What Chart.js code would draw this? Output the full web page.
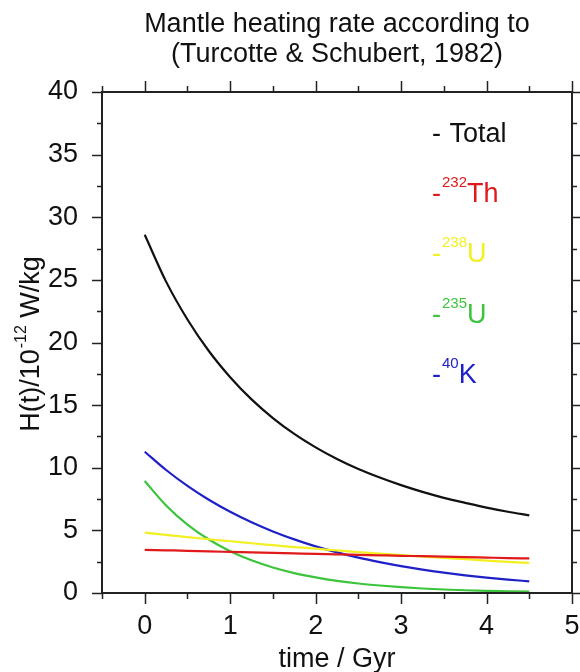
<!DOCTYPE html>
<html>
<head>
<meta charset="utf-8">
<script src="https://cdn.jsdelivr.net/npm/chart.js@4.4.1/dist/chart.umd.min.js"></script>
<style>
  html, body { margin: 0; padding: 0; background: #fff; overflow: hidden; }
  #wrap { width: 580px; height: 672px; }
</style>
</head>
<body>
<div id="wrap"><canvas id="canvas"></canvas></div>
<script>
// DATA (H in 10^-12 W/kg)
var time = [0, 0.25, 0.5, 0.75, 1, 1.25, 1.5, 1.75, 2, 2.25, 2.5, 2.75, 3, 3.25, 3.5, 3.75, 4, 4.25, 4.5]
var total = [28.6, 24.86, 21.84, 19.32, 17.23, 15.46, 13.97, 12.70, 11.63, 10.70, 9.90, 9.22, 8.61, 8.07, 7.60, 7.20, 6.82, 6.49, 6.20]
var th232 = [3.45, 3.41, 3.37, 3.32, 3.28, 3.24, 3.20, 3.16, 3.12, 3.09, 3.05, 3.01, 2.97, 2.94, 2.90, 2.87, 2.83, 2.79, 2.76]
var u238 = [4.82, 4.64, 4.46, 4.29, 4.13, 3.97, 3.82, 3.67, 3.54, 3.40, 3.27, 3.15, 3.03, 2.91, 2.80, 2.70, 2.59, 2.49, 2.40]
var u235 = [8.94, 6.99, 5.46, 4.27, 3.34, 2.61, 2.04, 1.59, 1.25, 0.97, 0.76, 0.60, 0.47, 0.36, 0.28, 0.22, 0.17, 0.14, 0.11]
var k40 = [11.28, 9.82, 8.55, 7.44, 6.48, 5.64, 4.91, 4.28, 3.72, 3.24, 2.82, 2.46, 2.14, 1.86, 1.62, 1.41, 1.23, 1.07, 0.93]

var xTicks = [0, 1, 2, 3, 4, 5]
var yTicks = [0, 5, 10, 15, 20, 25, 30, 35, 40]

var titleLines = ['Mantle heating rate according to', '(Turcotte & Schubert, 1982)']
var xTitle = 'time / Gyr'

// legend: dash, superscript, name, colour
var legendItems = [
  { sup: '', name: ' Total', color: '#111111' },
  { sup: '232', name: 'Th', color: '#e01a1a' },
  { sup: '238', name: 'U', color: '#f2f022' },
  { sup: '235', name: 'U', color: '#3cc43c' },
  { sup: '40', name: 'K', color: '#2020c8' }
]

var FONT = '"Liberation Sans", Arial, Helvetica, sans-serif'

const pts = (ys) => ys.map((y, i) => ({ x: time[i], y: y }))

const mkSet = (label, ys, color) => ({
  label: label,
  data: pts(ys),
  borderColor: color,
  backgroundColor: color,
  borderWidth: 2.2,
  pointRadius: 0,
  fill: false,
  cubicInterpolationMode: 'monotone'
})

//TEXT + TICKS + FRAME PLUGIN
var decor = {
  id: 'decor',
  afterDraw: function (chart) {
    var ctx = chart.ctx
    var a = chart.chartArea
    var xs = chart.scales.x
    var ys = chart.scales.y
    ctx.save()
    ctx.strokeStyle = '#222'
    ctx.lineWidth = 2
    ctx.strokeRect(a.left, a.top, a.right - a.left, a.bottom - a.top)

    // x ticks (major on integers, minor on halves), top and bottom, outward
    ctx.lineWidth = 1.5
    for (var v = -0.5; v <= 5.001; v += 0.5) {
      var px = Math.round(xs.getPixelForValue(v)) + 0.5
      var len = Math.abs(v - Math.round(v)) < 1e-6 ? 11 : 6
      ctx.beginPath()
      ctx.moveTo(px, a.bottom); ctx.lineTo(px, a.bottom + len)
      ctx.moveTo(px, a.top); ctx.lineTo(px, a.top - len)
      ctx.stroke()
    }
    // y ticks
    for (var w = 0; w <= 40.001; w += 2.5) {
      var py = Math.round(ys.getPixelForValue(w)) + 0.5
      var l2 = w % 5 === 0 ? 10 : 5
      ctx.beginPath()
      ctx.moveTo(a.left, py); ctx.lineTo(a.left - l2, py)
      ctx.moveTo(a.right, py); ctx.lineTo(a.right + l2, py)
      ctx.stroke()
    }

    ctx.fillStyle = '#111'
    ctx.textBaseline = 'alphabetic'
    var cx = (a.left + a.right) / 2

    // title
    ctx.font = '27px ' + FONT
    ctx.textAlign = 'center'
    ctx.fillText(titleLines[0], cx, 32)
    ctx.fillText(titleLines[1], cx, 62)

    // x title
    ctx.fillText(xTitle, cx, 667)

    // y title with superscript
    ctx.save()
    ctx.translate(39, (a.top + a.bottom) / 2 + 2)
    ctx.rotate(-Math.PI / 2)
    var p1 = 'H(t)/10', sup = '-12', p2 = ' W/kg'
    ctx.font = '27px ' + FONT
    var w1 = ctx.measureText(p1).width
    var w3 = ctx.measureText(p2).width
    ctx.font = '16px ' + FONT
    var w2 = ctx.measureText(sup).width
    var start = -(w1 + w2 + w3) / 2
    ctx.textAlign = 'left'
    ctx.font = '27px ' + FONT
    ctx.fillText(p1, start, 0)
    ctx.font = '16px ' + FONT
    ctx.fillText(sup, start + w1 + 1, -13)
    ctx.font = '27px ' + FONT
    ctx.fillText(p2, start + w1 + w2 + 1, 0)
    ctx.restore()

    // legend
    ctx.textAlign = 'left'
    legendItems.forEach(function (it, i) {
      var base = 142 + i * 60.2
      var x = 432
      ctx.fillStyle = it.color
      ctx.font = '27px ' + FONT
      ctx.fillText('-', x, base)
      x += ctx.measureText('-').width + 1
      if (it.sup) {
        ctx.font = '15px ' + FONT
        ctx.fillText(it.sup, x, base - 15)
        x += ctx.measureText(it.sup).width
        ctx.font = '27px ' + FONT
      }
      ctx.fillText(it.name, x, base)
    })
    ctx.restore()
  }
}

var ctx = document.getElementById('canvas').getContext('2d')
window.myLine = new Chart(ctx, {
  type: 'line',
  data: {
    datasets: [
      mkSet('Total', total, legendItems[0].color),
      mkSet('232Th', th232, legendItems[1].color),
      mkSet('238U', u238, legendItems[2].color),
      mkSet('235U', u235, legendItems[3].color),
      mkSet('40K', k40, legendItems[4].color)
    ]
  },
  options: {
    responsive: true,
    maintainAspectRatio: false,
    animation: false,
    layout: { padding: { top: 92, right: 8, left: 0, bottom: 0 } },
    plugins: {
      legend: { display: false },
      title: { display: false },
      tooltip: { enabled: false }
    },
    scales: {
      x: {
        type: 'linear',
        min: -0.5,
        max: 5,
        afterBuildTicks: (s) => { s.ticks = xTicks.map(v => ({ value: v })) },
        afterFit: (s) => { s.height = 79; s.paddingLeft = 0; s.paddingRight = 0 },
        grid: { display: false, drawTicks: false },
        border: { display: false },
        ticks: {
          padding: 17,
          maxRotation: 0,
          autoSkip: false,
          color: '#111',
          font: { family: FONT, size: 27 }
        }
      },
      y: {
        min: 0,
        max: 40,
        afterBuildTicks: (s) => { s.ticks = yTicks.map(v => ({ value: v })) },
        afterFit: (s) => { s.width = 102; s.paddingTop = 0; s.paddingBottom = 0 },
        grid: { display: false, drawTicks: false },
        border: { display: false },
        ticks: {
          padding: 24,
          color: '#111',
          font: { family: FONT, size: 27 }
        }
      }
    }
  },
  plugins: [decor]
})
</script>
</body>
</html>
